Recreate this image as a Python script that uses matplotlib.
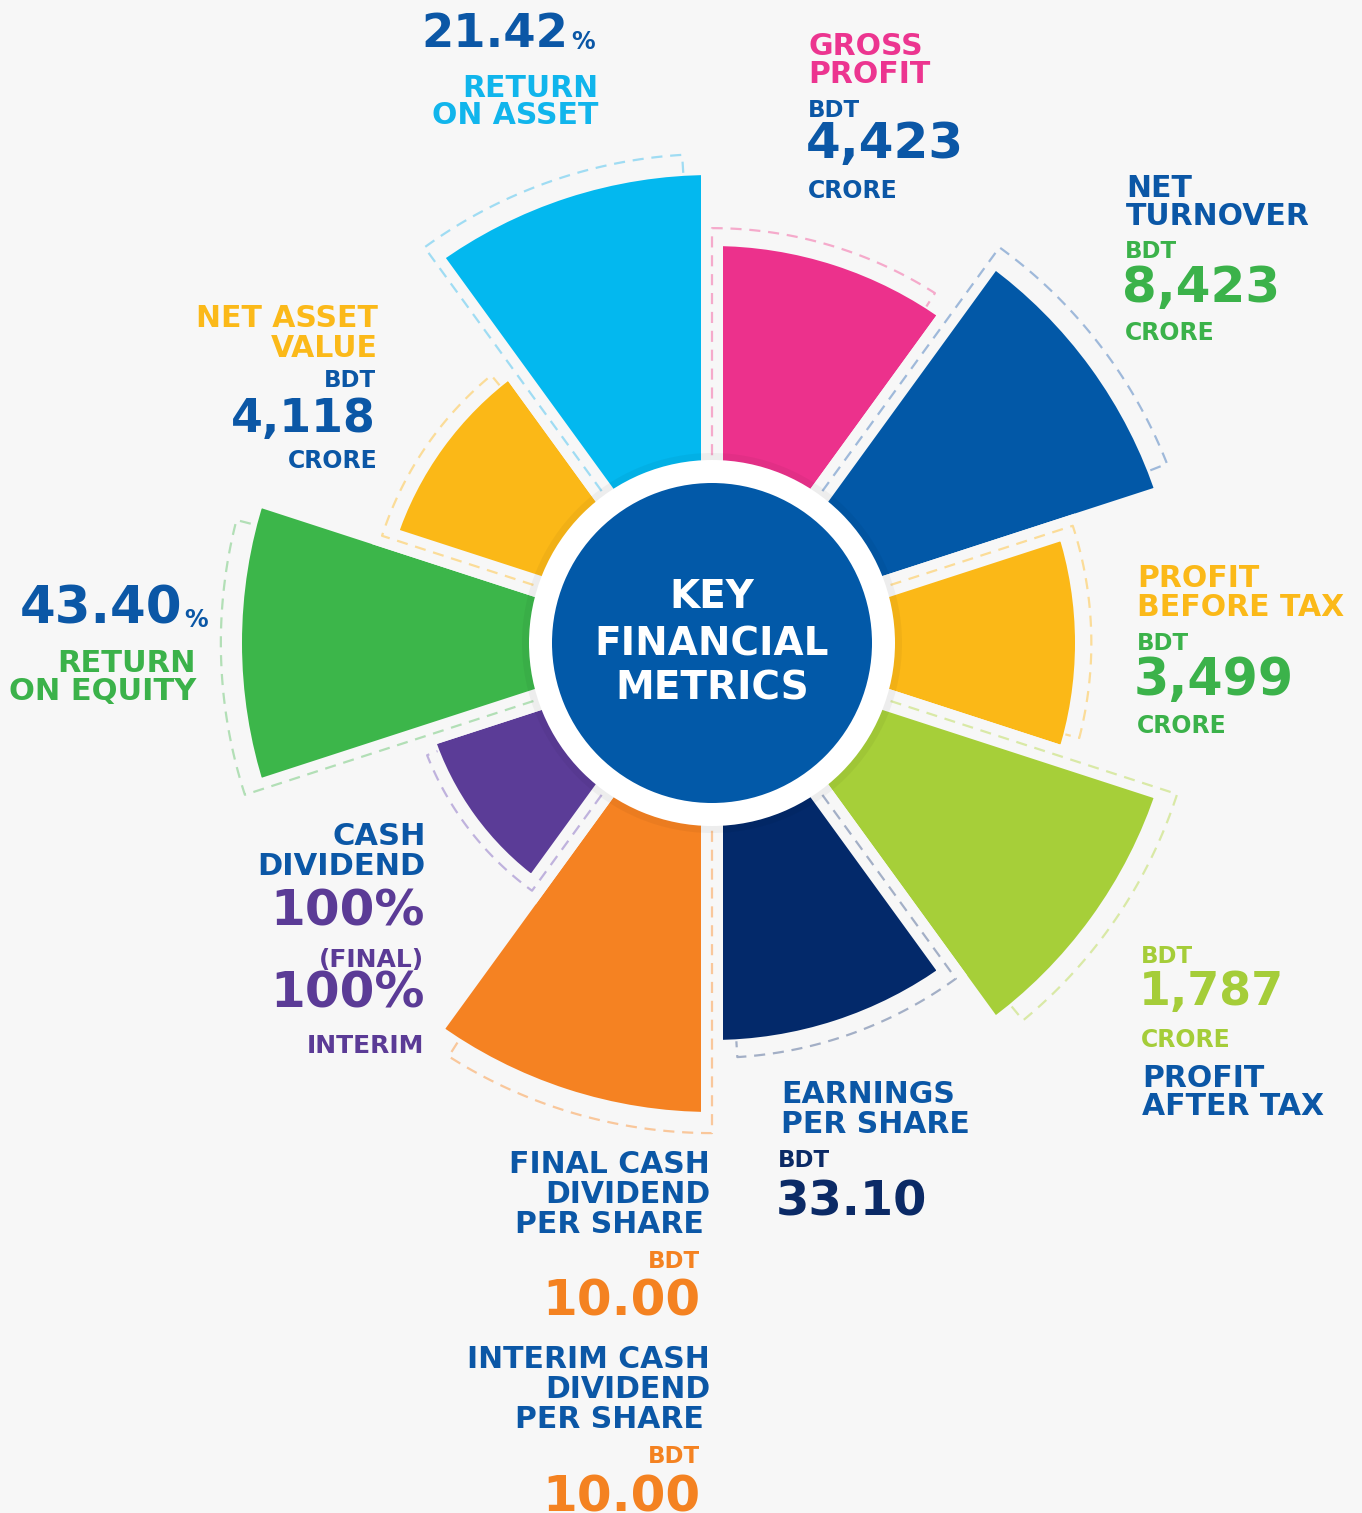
import numpy as np
import matplotlib
matplotlib.use('Agg')
import matplotlib.pyplot as plt

plt.rcParams['font.family'] = 'DejaVu Sans'

# ---- data (wedges clockwise from 12 o'clock) ----
metrics = ['Gross profit', 'Net turnover', 'Profit before tax', 'Profit after tax',
           'Earnings per share', 'Final cash dividend', 'Cash dividend',
           'Return on equity', 'Net asset value', 'Return on asset']
bar_len = [397, 468, 363, 468, 397, 469, 293, 470, 332, 468]   # wedge length (px)
values = ['4,423', '8,423', '3,499', '1,787', '33.10', '10.00', '100%',
          '43.40', '4,118', '21.42']
interim_div = '10.00'
interim_cash = '100%'

bar_col = ['#ec318c', '#0258a7', '#fbb817', '#a6cf39', '#03296a',
           '#f58222', '#5b3c97', '#3cb64a', '#fbb817', '#03b8ef']
dash_col = ['#f5aacb', '#9fb9da', '#fbdc98', '#d9e9a6', '#a3afc6',
            '#f9c79b', '#bfb2dd', '#b2dfb6', '#fbdc98', '#9fdcf3']

bg = '#f7f7f7'
blue = '#0b57a6'
navy = '#0b2a66'
green = '#3bb24a'
lime = '#a5cd39'
yellow = '#fbb919'
pink = '#ec3590'
orange = '#f48221'
purple = '#5b3b96'
cyan = '#11b5ec'

W, H = 1362, 1513
cx, cy = 712, 643          # centre of the rose in pixels (from top-left)
R = 560                    # radial extent of the polar axes in px
gap = 22                   # strip between wedges (px)

fig = plt.figure(figsize=(W / 100, H / 100), dpi=100, facecolor=bg)

ax = fig.add_axes([(cx - R) / W, (H - cy - R) / H, 2 * R / W, 2 * R / H],
                  projection='polar')
ax.set_theta_zero_location('N')
ax.set_theta_direction(-1)
ax.set_ylim(0, R)
ax.set_axis_off()

n = len(bar_len)
step = 360 / n
theta = np.deg2rad(np.arange(n) * step + step / 2)
lengths = np.array(bar_len)

bars = ax.bar(theta, lengths + gap / 2, width=np.deg2rad(step), bottom=0,
              color=bar_col, edgecolor=bg, linewidth=gap * 0.72, zorder=2)
for b in bars:
    b.set_joinstyle('miter')

# dashed outlines (leading edge sits in the gap, arc just outside the wedge)
for i in range(n):
    start = i * step
    end = start + 32.5
    rd = lengths[i] * 1.045
    arc = np.linspace(start, end, 60)
    th = np.concatenate([[start, start], arc, [end]])
    rr = np.concatenate([[150, rd], np.full(arc.size, rd), [lengths[i] + 2]])
    ax.plot(np.deg2rad(th), rr, color=dash_col[i], lw=1.6,
            ls=(0, (5, 3.5)), zorder=3, solid_capstyle='butt')

# centre disc
ax.bar(0, 190, width=2 * np.pi, bottom=0, color='black', alpha=0.04,
       linewidth=0, zorder=4)
ax.bar(0, 183, width=2 * np.pi, bottom=0, color='white', linewidth=0, zorder=5)
ax.bar(0, 160, width=2 * np.pi, bottom=0, color='#0259a8', linewidth=0, zorder=6)

# ---- text overlay in pixel coordinates ----
tx = fig.add_axes([0, 0, 1, 1])
tx.set_xlim(0, W)
tx.set_ylim(H, 0)
tx.set_axis_off()
tx.patch.set_alpha(0)


def txt(x, y, s, size, color, ha='left'):
    tx.text(x, y, s, fontsize=size, color=color, ha=ha, va='baseline',
            fontweight='bold')


# centre
for s, y in zip(['KEY', 'FINANCIAL', 'METRICS'], [608, 655, 700]):
    txt(712, y, s, 28, 'white', ha='center')

# return on asset
txt(568, 47, values[9], 33.5, blue, 'right')
txt(571, 49, '%', 17, blue)
txt(598, 97, 'RETURN', 21.5, cyan, 'right')
txt(598, 124, 'ON ASSET', 21.5, cyan, 'right')

# gross profit
txt(808, 55, 'GROSS', 21.5, pink)
txt(808, 83, 'PROFIT', 21.5, pink)
txt(808, 117, 'BDT', 16.5, blue)
txt(806, 158, values[0], 36, blue)
txt(808, 198, 'CRORE', 17, blue)

# net turnover
txt(1126, 197, 'NET', 21.5, blue)
txt(1126, 225, 'TURNOVER', 21.5, blue)
txt(1125, 258, 'BDT', 16.5, green)
txt(1122, 302, values[1], 36, green)
txt(1125, 340, 'CRORE', 17, green)

# profit before tax
txt(1137, 587, 'PROFIT', 21.5, yellow)
txt(1137, 616, 'BEFORE TAX', 21.5, yellow)
txt(1137, 650, 'BDT', 16.5, green)
txt(1134, 695, values[2], 36.5, green)
txt(1137, 733, 'CRORE', 17, green)

# profit after tax
txt(1141, 963, 'BDT', 16.5, lime)
txt(1139, 1005, values[3], 33, lime)
txt(1141, 1047, 'CRORE', 17, lime)
txt(1142, 1087, 'PROFIT', 21.5, blue)
txt(1142, 1115, 'AFTER TAX', 21.5, blue)

# earnings per share
txt(781, 1103, 'EARNINGS', 21.5, blue)
txt(781, 1133, 'PER SHARE', 21.5, blue)
txt(778, 1167, 'BDT', 16.5, navy)
txt(776, 1215, values[4], 34.5, navy)

# final / interim cash dividend per share
txt(710, 1173, 'FINAL CASH', 21.5, blue, 'right')
txt(710, 1203, 'DIVIDEND', 21.5, blue, 'right')
txt(704, 1233, 'PER SHARE', 21.5, blue, 'right')
txt(700, 1268, 'BDT', 16.5, orange, 'right')
txt(700, 1315, values[5], 36, orange, 'right')
txt(710, 1368, 'INTERIM CASH', 21.5, blue, 'right')
txt(710, 1398, 'DIVIDEND', 21.5, blue, 'right')
txt(704, 1428, 'PER SHARE', 21.5, blue, 'right')
txt(700, 1463, 'BDT', 16.5, orange, 'right')
txt(700, 1511, interim_div, 36, orange, 'right')

# cash dividend
txt(426, 845, 'CASH', 22, blue, 'right')
txt(426, 875, 'DIVIDEND', 22, blue, 'right')
txt(425, 925, values[6], 36, purple, 'right')
txt(424, 967, '(FINAL)', 18, purple, 'right')
txt(425, 1008, interim_cash, 36, purple, 'right')
txt(424, 1053, 'INTERIM', 18, purple, 'right')

# return on equity
txt(182, 623, values[7], 37, blue, 'right')
txt(184, 627, '%', 17, blue)
txt(196, 672, 'RETURN', 22, green, 'right')
txt(196, 700, 'ON EQUITY', 22, green, 'right')

# net asset value
txt(378, 327, 'NET ASSET', 21.5, yellow, 'right')
txt(378, 357, 'VALUE', 21.5, yellow, 'right')
txt(376, 387, 'BDT', 16.5, blue, 'right')
txt(376, 432, values[8], 33, blue, 'right')
txt(378, 468, 'CRORE', 17, blue, 'right')

fig.savefig('out.png', dpi=100, facecolor=bg)
